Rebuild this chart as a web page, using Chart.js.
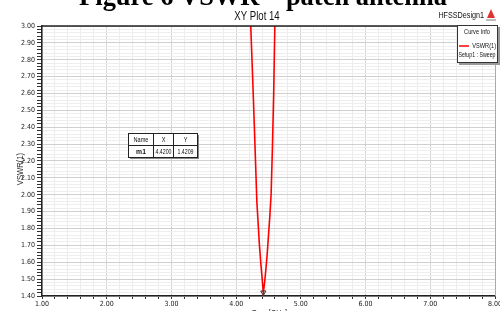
<!DOCTYPE html>
<html>
<head>
<meta charset="utf-8">
<script src="https://cdn.jsdelivr.net/npm/chart.js@4/dist/chart.umd.min.js"></script>
<style>
  html, body { margin: 0; padding: 0; background: #fff; }
  canvas { display: block; }
</style>
</head>
<body>
<canvas id="plot" width="500" height="311"></canvas>
<script>
// VSWR(1) vs Freq [GHz]
const freqs = [4.20, 4.22, 4.24, 4.26, 4.28, 4.30, 4.32, 4.34, 4.36, 4.38, 4.40, 4.42,
               4.44, 4.46, 4.48, 4.50, 4.52, 4.54, 4.56, 4.58, 4.60, 4.62];
const vswr  = [3.27, 3.06, 2.85, 2.64, 2.42, 2.19, 1.96, 1.83, 1.70, 1.60, 1.51, 1.42,
               1.48, 1.56, 1.65, 1.76, 1.87, 2.00, 2.27, 2.60, 3.05, 3.50];
const markerName = 'm1';
const markerX = 4.42;
const markerY = 1.4209;
const xTicks = [1, 2, 3, 4, 5, 6, 7, 8];
const yMin = 1.4, yMax = 3.0;

const sans = '"Liberation Sans", Arial, sans-serif';
const tickFont = '"DejaVu Sans Condensed", "Liberation Sans", sans-serif';

const isMajor = (v, mult) => Math.abs(Math.round(v * mult) - v * mult) < 1e-6;

// squeeze text horizontally, the original uses a narrow face
function narrowText(ctx, text, x, y, align, sx) {
  ctx.save();
  ctx.translate(x, y);
  ctx.scale(sx, 1);
  ctx.textAlign = align;
  ctx.fillText(text, 0, 0);
  ctx.restore();
}

const decorations = {
  id: 'decorations',
  afterDraw(chart) {
    const ctx = chart.ctx;
    const a = chart.chartArea;
    ctx.save();

    // frame lines
    ctx.strokeStyle = '#222';
    ctx.lineWidth = 1.5;
    ctx.beginPath();
    ctx.moveTo(a.left, a.top); ctx.lineTo(a.right, a.top);
    ctx.stroke();
    ctx.strokeStyle = '#aaa';
    ctx.lineWidth = 1;
    ctx.beginPath();
    ctx.moveTo(a.right + 0.5, a.top); ctx.lineTo(a.right + 0.5, a.bottom);
    ctx.stroke();

    // cropped figure caption
    ctx.fillStyle = '#000';
    ctx.font = 'bold 27px "Liberation Serif", "Times New Roman", serif';
    ctx.textBaseline = 'alphabetic';
    narrowText(ctx, 'Figure 6 VSWR \u2013 patch antenna', 263, 5, 'center', 0.98);

    // plot title
    ctx.font = '12px ' + sans;
    ctx.fillStyle = '#111';
    narrowText(ctx, 'XY Plot 14', 257, 20, 'center', 0.8);

    ctx.font = '9px ' + sans;
    narrowText(ctx, 'HFSSDesign1', 484, 18, 'right', 0.8);

    // little logo
    ctx.fillStyle = '#d33';
    ctx.beginPath();
    ctx.moveTo(491, 9); ctx.lineTo(487, 18); ctx.lineTo(495, 18); ctx.closePath();
    ctx.fill();
    ctx.fillStyle = '#bbb';
    ctx.fillRect(486, 19, 10, 2);

    // curve info box
    ctx.fillStyle = '#999';
    ctx.fillRect(459, 27, 41, 38);
    ctx.fillStyle = '#fff';
    ctx.fillRect(457, 25, 40, 37);
    ctx.strokeStyle = '#333';
    ctx.lineWidth = 1;
    ctx.strokeRect(457.5, 25.5, 40, 37);
    ctx.fillStyle = '#111';
    ctx.font = '7px ' + sans;
    narrowText(ctx, 'Curve Info', 477, 34, 'center', 0.8);
    ctx.strokeStyle = '#ff0000';
    ctx.lineWidth = 1.5;
    ctx.beginPath();
    ctx.moveTo(459, 46); ctx.lineTo(469, 46);
    ctx.stroke();
    narrowText(ctx, 'VSWR(1)', 496, 48, 'right', 0.8);
    narrowText(ctx, 'Setup1 : Sweep', 477, 57, 'center', 0.75);

    // marker table
    const tx = 128, ty = 133, tw = 69, th = 24;
    ctx.fillStyle = '#888';
    ctx.fillRect(tx + 2, ty + 2, tw, th);
    ctx.fillStyle = '#fff';
    ctx.fillRect(tx, ty, tw, th);
    ctx.strokeStyle = '#222';
    ctx.lineWidth = 1;
    ctx.strokeRect(tx + 0.5, ty + 0.5, tw, th);
    ctx.beginPath();
    ctx.moveTo(tx, ty + 12.5); ctx.lineTo(tx + tw, ty + 12.5);
    ctx.moveTo(153.5, ty); ctx.lineTo(153.5, ty + th);
    ctx.moveTo(173.5, ty); ctx.lineTo(173.5, ty + th);
    ctx.stroke();
    ctx.fillStyle = '#111';
    ctx.font = '7px ' + sans;
    narrowText(ctx, 'Name', 141, ty + 9, 'center', 0.8);
    narrowText(ctx, 'X', 163.5, ty + 9, 'center', 0.8);
    narrowText(ctx, 'Y', 185.5, ty + 9, 'center', 0.8);
    ctx.font = 'bold 8px ' + sans;
    narrowText(ctx, markerName, 141, ty + 21, 'center', 0.85);
    ctx.font = '7px ' + sans;
    narrowText(ctx, markerX.toFixed(4), 163.5, ty + 21, 'center', 0.75);
    narrowText(ctx, markerY.toFixed(4), 185.5, ty + 21, 'center', 0.75);

    // axis titles
    ctx.font = '9px ' + sans;
    ctx.fillStyle = '#333';
    ctx.save();
    ctx.translate(21, (a.top + a.bottom) / 2 + 8);
    ctx.rotate(-Math.PI / 2);
    ctx.textBaseline = 'middle';
    narrowText(ctx, 'VSWR(1)', 0, 0, 'center', 0.85);
    ctx.restore();
    ctx.textBaseline = 'top';
    narrowText(ctx, 'Freq [GHz]', (a.left + a.right) / 2 + 1, 309, 'center', 0.8);

    ctx.restore();
  }
};

new Chart(document.getElementById('plot'), {
  type: 'scatter',
  data: {
    datasets: [
      {
        label: 'VSWR(1)',
        data: freqs.map((f, i) => ({ x: f, y: vswr[i] })),
        showLine: true,
        borderColor: '#ff0000',
        borderWidth: 1.6,
        pointRadius: 0,
        tension: 0,
        order: 2
      },
      {
        label: markerName,
        data: [{ x: markerX, y: markerY }],
        showLine: false,
        pointStyle: 'triangle',
        rotation: 180,
        pointRadius: 3,
        borderColor: '#333',
        backgroundColor: 'rgba(0,0,0,0)',
        borderWidth: 1,
        order: 1
      }
    ]
  },
  options: {
    responsive: false,
    animation: false,
    clip: 0,
    layout: { padding: { top: 26, right: 2, left: 0, bottom: 0 } },
    plugins: {
      legend: { display: false },
      tooltip: { enabled: false },
      title: { display: false }
    },
    scales: {
      x: {
        type: 'linear',
        min: 1,
        max: 8,
        afterFit: s => { s.height = 15; s.paddingRight = 0; },
        afterBuildTicks: s => {
          const t = [];
          for (let k = 0; k <= 35; k++) t.push({ value: 1 + k * 0.2 });
          s.ticks = t;
        },
        ticks: {
          autoSkip: false,
          maxRotation: 0,
          padding: 1,
          color: '#222',
          font: { family: tickFont, size: 7 },
          callback: v => (isMajor(v, 1) && xTicks.includes(Math.round(v))) ? v.toFixed(2) : ''
        },
        grid: {
          color: c => isMajor(c.tick.value, 1) ? '#d4d4d4' : '#ececec',
          tickColor: '#333',
          tickLength: 3
        },
        border: { color: '#222', width: 1.5 }
      },
      y: {
        type: 'linear',
        min: yMin,
        max: yMax,
        afterFit: s => { s.width = 42; },
        ticks: {
          stepSize: 0.02,
          autoSkip: false,
          padding: 2,
          color: '#222',
          font: { family: tickFont, size: 7 },
          callback: v => isMajor(v, 10) ? v.toFixed(2) : ''
        },
        grid: {
          color: c => isMajor(c.tick.value, 10) ? '#d0d0d0' : '#eeeeee',
          tickColor: '#333',
          tickLength: 5
        },
        border: { color: '#222', width: 1.5 }
      }
    }
  },
  plugins: [decorations]
});
</script>
</body>
</html>
